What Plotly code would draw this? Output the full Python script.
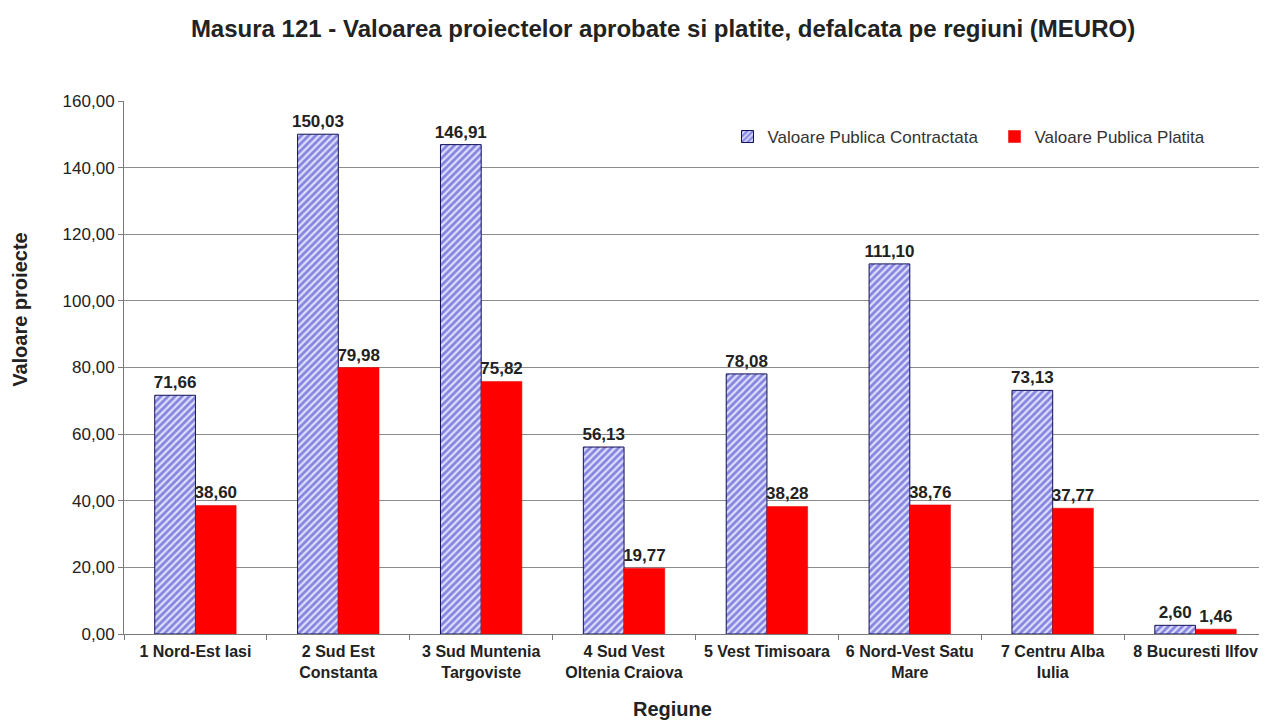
import plotly.graph_objects as go

categories = ["1 Nord-Est Iasi", "2 Sud Est<br>Constanta", "3 Sud Muntenia<br>Targoviste",
              "4 Sud Vest<br>Oltenia Craiova", "5 Vest Timisoara", "6 Nord-Vest Satu<br>Mare",
              "7 Centru Alba<br>Iulia", "8 Bucuresti Ilfov"]
contractata = [71.66, 150.03, 146.91, 56.13, 78.08, 111.10, 73.13, 2.60]
platita = [38.60, 79.98, 75.82, 19.77, 38.28, 38.76, 37.77, 1.46]
y_ticks = [0, 20, 40, 60, 80, 100, 120, 140, 160]

font_family = "Liberation Sans, Arial, sans-serif"

fig = go.Figure()
fig.add_trace(go.Bar(
    name="Valoare Publica Contractata", x=categories, y=contractata,
    marker=dict(color="white", line=dict(color="#10105a", width=1),
                pattern=dict(shape="/", fgcolor="#2c2cbc", bgcolor="#dedeff", size=5, solidity=0.55)),
    texttemplate="<b>%{y:.2f}</b>", textposition="outside", cliponaxis=False, constraintext="none",
    textfont=dict(size=17, color="#222", family=font_family),
))
fig.add_trace(go.Bar(
    name="Valoare Publica Platita", x=categories, y=platita,
    marker=dict(color="#ff0000", line=dict(color="#e00000", width=0.5)),
    texttemplate="<b>%{y:.2f}</b>", textposition="outside", cliponaxis=False, constraintext="none",
    textfont=dict(size=17, color="#222", family=font_family),
))

fig.update_layout(
    width=1267, height=721,
    paper_bgcolor="white", plot_bgcolor="white",
    separators=",.",
    barmode="group", bargap=0.43, bargroupgap=0,
    margin=dict(l=116, r=8, t=93, b=95, autoexpand=False),
    font=dict(family=font_family, size=12, color="#222"),
    title=dict(text="<b>Masura 121 - Valoarea proiectelor aprobate si platite, defalcata pe regiuni (MEURO)</b>",
               x=0.517, xanchor="center", y=0.972, yanchor="middle", xref="container", yref="container",
               font=dict(size=24, color="#222", family=font_family)),
    legend=dict(orientation="h", x=0.528, y=0.9325, xanchor="left", yanchor="middle",
                font=dict(size=17, color="#333"), bgcolor="rgba(0,0,0,0)",
                itemwidth=30, entrywidthmode="pixels", entrywidth=222),
    showlegend=True,
    annotations=[
        dict(text="<b>Valoare proiecte</b>", xref="paper", yref="paper", x=-0.091, y=0.610,
             xanchor="center", yanchor="middle", textangle=-90, showarrow=False,
             font=dict(size=20, color="#222", family=font_family)),
        dict(text="<b>Regiune</b>", xref="paper", yref="paper", x=0.480, y=-0.1407,
             xanchor="center", yanchor="middle", showarrow=False,
             font=dict(size=20, color="#222", family=font_family)),
    ],
)
fig.update_yaxes(
    range=[0, 160], tickvals=y_ticks, tickformat=".2f", automargin=False,
    showgrid=True, gridcolor="#8c8c8c", gridwidth=1,
    showline=True, linecolor="#7a7a7a", linewidth=1,
    ticks="outside", ticklen=5, tickcolor="#7a7a7a",
    tickprefix="<b>", ticksuffix="</b>",
    tickfont=dict(size=17, color="#222", family=font_family),
    zeroline=False,
)
fig.update_xaxes(
    showline=True, linecolor="#7a7a7a", linewidth=1, automargin=False,
    ticks="outside", ticklen=5, tickcolor="#7a7a7a", tickson="boundaries",
    tickangle=0, ticklabelstandoff=3,
    tickfont=dict(size=16, color="#222", family=font_family),
    tickprefix="<b>", ticksuffix="</b>",
)

fig.write_html("out.html")
